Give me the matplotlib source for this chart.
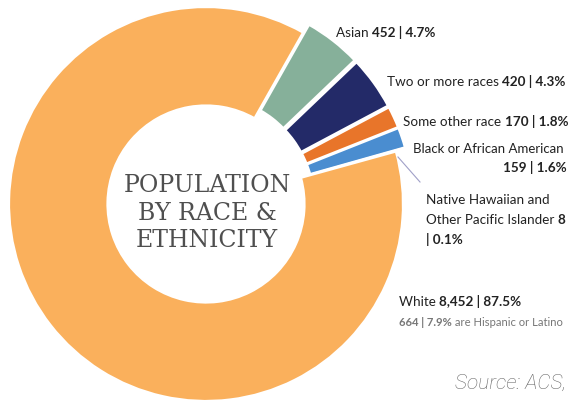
import matplotlib.pyplot as plt

# data
groups = ['Asian', 'Two or more races', 'Some other race',
          'Black or African American', 'Native Hawaiian and Other Pacific Islander', 'White']
counts = [452, 420, 170, 159, 8, 8452]
shares = ['4.7%', '4.3%', '1.8%', '1.6%', '0.1%', '87.5%']
colors = ['#86B09A', '#232A68', '#E8752A', '#4A8DD0', '#9A9AC0', '#FAB05C']
hispanic_count = 664
hispanic_share = '7.9%'

W, H = 569, 402
CX, CY, R = 206, 205, 197   # donut centre and radius in pixels

fig = plt.figure(figsize=(W / 100, H / 100), dpi=100)
ax = fig.add_axes([0, 0, 1, 1])

explode = [0.05 if g != 'White' else 0 for g in groups]
wedges, _ = ax.pie(counts, colors=colors, startangle=60.5, counterclock=False,
                   explode=explode,
                   wedgeprops=dict(width=0.5, edgecolor='white', linewidth=1.6))
ax.set_xlim(-CX / R, (W - CX) / R)
ax.set_ylim(-(H - CY) / R, CY / R)
ax.axis('off')

FONT = 'Lato'
SIZE = 9.7


def fx(x):
    return x / W


def fy(y):
    return 1 - y / H


def label(x, y, parts, size=SIZE, color='#222222', ha='left'):
    # parts: list of (text, bold)
    t = fig.text(fx(x), fy(y), parts[0][0], fontsize=size, family=FONT,
                 fontweight='bold' if parts[0][1] else 'normal',
                 color=color, va='center', ha=ha)
    prev = t
    for txt, bold in parts[1:]:
        prev = ax.annotate(txt, xy=(1, 0), xycoords=prev, va='bottom', ha='left',
                           fontsize=size, family=FONT, color=color,
                           fontweight='bold' if bold else 'normal')
    return t


label(336, 33, [('Asian ', False), (f'{counts[0]} | {shares[0]}', True)])
label(387, 82, [('Two or more races ', False), (f'{counts[1]} | {shares[1]}', True)])
label(403, 122, [('Some other race ', False), (f'{counts[2]} | {shares[2]}', True)])
label(413, 149, [('Black or African American', False)], size=9.5)
fig.text(fx(567), fy(168), f'{counts[3]} | {shares[3]}', fontsize=SIZE, family=FONT,
         fontweight='bold', color='#222222', va='center', ha='right')
label(426, 200, [('Native Hawaiian and', False)])
label(426, 220, [('Other Pacific Islander ', False), (f'{counts[4]}', True)])
label(426, 240, [(f'| {shares[4]}', True)])
label(399, 302, [('White ', False), (f'{counts[5]:,} | {shares[5]}', True)])
label(399, 323, [(f'{hispanic_count} | {hispanic_share}', True),
                 (' are Hispanic or Latino', False)], size=8.1, color='#777777')

# leader line for the tiny slice
ax.plot([(398 - CX) / R, (420 - CX) / R], [(CY - 158) / R, (CY - 183) / R],
        color='#A0A0C8', lw=0.8)

# centre title
for line, y in zip(['POPULATION', 'BY RACE &', 'ETHNICITY'], [186, 214, 241]):
    fig.text(fx(207), fy(y), line, fontsize=17, family='DejaVu Serif',
             color='#4F4F4F', ha='center', va='center')

fig.text(fx(566), fy(383), 'Source: ACS,', fontsize=15, family='Roboto',
         style='italic', fontweight='light', color='#666666', ha='right', va='center')

fig.savefig('out.png', dpi=100)
